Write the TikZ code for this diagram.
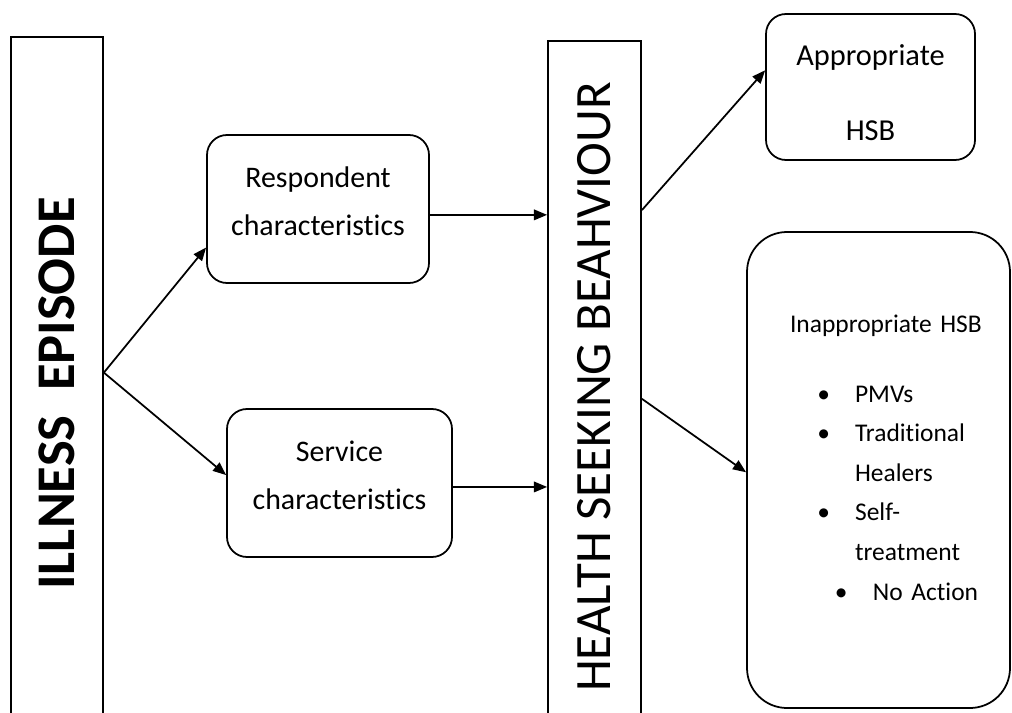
\documentclass[tikz,border=0pt]{standalone}
\usepackage{fontspec}
\setmainfont{Carlito}[Ligatures=NoCommon]
\usetikzlibrary{arrows.meta}
\begin{document}
\begin{tikzpicture}[scale=0.2]
\tikzstyle{every node}+=[inner sep=0pt]
\tikzstyle{bar}=[draw=black, line width=1pt]
\tikzstyle{rbox}=[draw=black, line width=1pt, rounded corners=0.4cm, align=center]
\tikzstyle{link}=[black, line width=1pt, -{Triangle[length=7.5pt,width=6pt]}]
\useasboundingbox (0,0) rectangle (101.2,-71.3);
\clip (0,0) rectangle (101.2,-71.3);
\node [bar, minimum width=1.84cm, minimum height=14.26cm] (ill) at (5.7,-39.35) {\rotatebox{90}{\fontsize{31}{36}\selectfont\bfseries ILLNESS\ \ EPISODE}};
\node [bar, minimum width=1.86cm, minimum height=13.84cm] (hsb) at (59.45,-38.7) {\rotatebox{90}{\fontsize{29}{34}\selectfont HEALTH SEEKING BEAHVIOUR}};
\node [rbox, minimum width=4.44cm, minimum height=2.96cm, text depth=9pt, font=\fontsize{17}{27}\selectfont] (resp) at (31.8,-20.9) {Respondent\\characteristics};
\node [rbox, minimum width=4.5cm, minimum height=2.96cm, text depth=9pt, font=\fontsize{17}{27}\selectfont] (serv) at (33.95,-48.3) {Service\\characteristics};
\node [rbox, minimum width=4.18cm, minimum height=2.92cm, text height=61.4pt, text depth=0pt, font=\fontsize{17.3}{42.7}\selectfont] (appr) at (87.05,-8.7) {Appropriate\\HSB};
\node [draw=black, line width=1pt, rounded corners=0.8cm, align=left, text width=5.26cm, minimum height=9.52cm, text height=0pt, text depth=156pt, font=\fontsize{14.5}{22.5}\selectfont] (inapp) at (87.85,-47) {%
\hspace*{24.5pt}Inappropriate HSB\\[17pt]
\hspace*{40pt}\makebox[21.5pt][l]{\textbullet}PMVs\\
\hspace*{40pt}\makebox[21.5pt][l]{\textbullet}Traditional\\
\hspace*{61.5pt}Healers\\
\hspace*{40pt}\makebox[21.5pt][l]{\textbullet}Self-\\
\hspace*{61.5pt}treatment\\
\hspace*{50pt}\makebox[21.7pt][l]{\textbullet}No Action};
\draw [link] (ill.24) -- (resp.199);
\draw [link] (ill.24) -- (serv.176);
\draw [link] (resp.357) -- (resp.357 -| hsb.west);
\draw [link] (serv.358) -- (serv.358 -| hsb.west);
\draw [link] (hsb.75.4) -- (appr.171);
\draw [link] (hsb.346.7) -- (inapp.181);
\end{tikzpicture}
\end{document}
